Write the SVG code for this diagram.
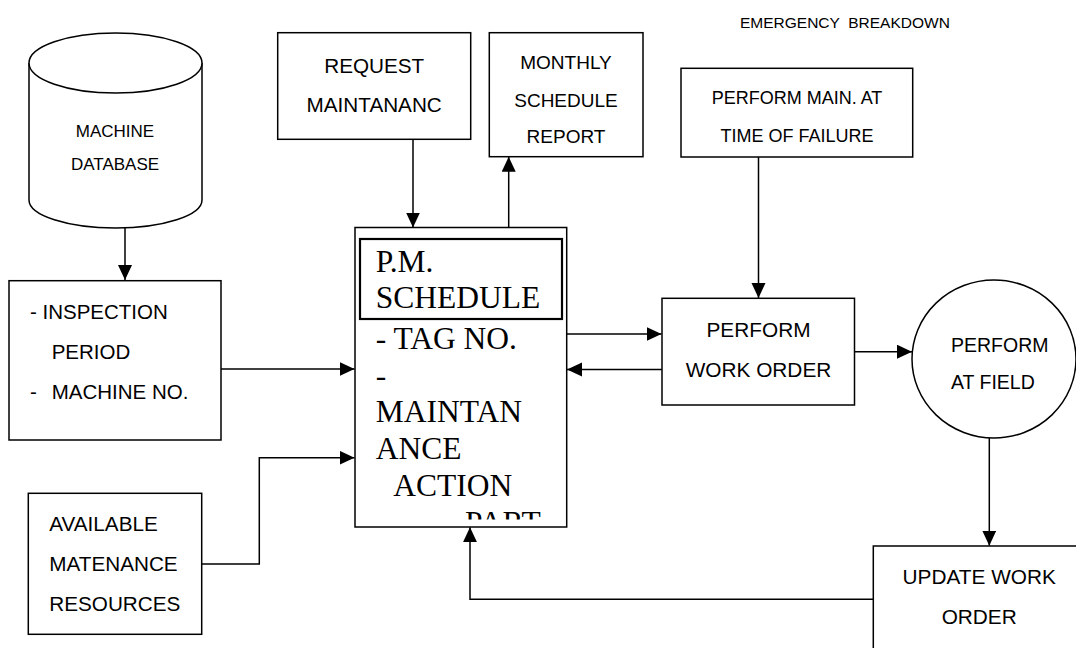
<svg xmlns="http://www.w3.org/2000/svg" width="1076" height="648" viewBox="0 0 1076 648">
  <style>
    .box { fill: #fff; stroke: #000; stroke-width: 1.5; }
    .inner { fill: none; stroke: #000; stroke-width: 2.2; }
    .edge { fill: none; stroke: #000; stroke-width: 1.5; }
    .sans { font-family: "Liberation Sans", Arial, sans-serif; fill: #000; }
    .serif { font-family: "Liberation Serif", "Times New Roman", serif; fill: #000; font-size: 31.5px; }
    .mid { text-anchor: middle; }
  </style>
  <defs>
    <marker id="arrow" markerUnits="userSpaceOnUse" markerWidth="16" markerHeight="15" refX="15" refY="7" orient="auto">
      <path d="M0,0 L15,7 L0,14 z" fill="#000"/>
    </marker>
    <!-- lower text of the schedule box is cut off above its bottom edge -->
    <clipPath id="pmClip">
      <rect x="357" y="320" width="208" height="199.5"/>
    </clipPath>
  </defs>

  <rect width="1076" height="648" fill="#fff"/>

  <text class="sans" x="740" y="28.3" font-size="15.5" xml:space="preserve">EMERGENCY  BREAKDOWN</text>

  <!-- connectors -->
  <g id="connectors">
    <line class="edge" x1="125" y1="227.7" x2="125" y2="280" marker-end="url(#arrow)"/>
    <line class="edge" x1="413" y1="139.3" x2="413" y2="227.5" marker-end="url(#arrow)"/>
    <line class="edge" x1="508.7" y1="227.5" x2="508.7" y2="156.7" marker-end="url(#arrow)"/>
    <line class="edge" x1="221" y1="369" x2="354.5" y2="369" marker-end="url(#arrow)"/>
    <polyline class="edge" points="201.7,564 259.3,564 259.3,457.7 354.5,457.7" marker-end="url(#arrow)"/>
    <line class="edge" x1="566.7" y1="334" x2="661.5" y2="334" marker-end="url(#arrow)"/>
    <line class="edge" x1="662" y1="369.5" x2="567" y2="369.5" marker-end="url(#arrow)"/>
    <line class="edge" x1="758.5" y1="157" x2="758.5" y2="298" marker-end="url(#arrow)"/>
    <line class="edge" x1="854.5" y1="351.7" x2="912" y2="351.7" marker-end="url(#arrow)"/>
    <line class="edge" x1="989.3" y1="438" x2="989.3" y2="545.7" marker-end="url(#arrow)"/>
    <polyline class="edge" points="873.3,599.3 470,599.3 470,527.2" marker-end="url(#arrow)"/>
  </g>

  <!-- machine database (cylinder) -->
  <g id="machine-database">
    <path class="box" d="M29,63 L29,200 A86.5,28 0 0 0 202,200 L202,63"/>
    <ellipse class="box" cx="115.5" cy="63" rx="86.5" ry="30"/>
    <text class="sans mid" x="115" y="137" font-size="17">MACHINE</text>
    <text class="sans mid" x="115" y="170" font-size="17">DATABASE</text>
  </g>

  <g id="request-maintenance">
    <rect class="box" x="277.7" y="32.7" width="193" height="106.6"/>
    <text class="sans mid" x="374.2" y="72.7" font-size="20.7">REQUEST</text>
    <text class="sans mid" x="374.2" y="111.7" font-size="20.7">MAINTANANC</text>
  </g>

  <g id="monthly-report">
    <rect class="box" x="489.3" y="32.7" width="153.7" height="124"/>
    <text class="sans mid" x="566" y="69.3" font-size="19">MONTHLY</text>
    <text class="sans mid" x="566" y="106.7" font-size="19">SCHEDULE</text>
    <text class="sans mid" x="566" y="142.7" font-size="19">REPORT</text>
  </g>

  <g id="perform-main">
    <rect class="box" x="681" y="68.3" width="231.7" height="88.7"/>
    <text class="sans mid" x="797" y="104" font-size="18">PERFORM MAIN. AT</text>
    <text class="sans mid" x="797" y="141.7" font-size="18">TIME OF FAILURE</text>
  </g>

  <g id="inspection">
    <rect class="box" x="9" y="280.7" width="212" height="159.3"/>
    <text class="sans" x="30" y="319.3" font-size="20.5">- INSPECTION</text>
    <text class="sans" x="51.7" y="359.3" font-size="20.5">PERIOD</text>
    <text class="sans" x="30" y="399" font-size="20.5">-</text>
    <text class="sans" x="51.7" y="399" font-size="20.5">MACHINE NO.</text>
  </g>

  <g id="available-resources">
    <rect class="box" x="28.3" y="493.3" width="173.4" height="141"/>
    <text class="sans" x="49.3" y="531" font-size="20.7">AVAILABLE</text>
    <text class="sans" x="49.3" y="571" font-size="20.7">MATENANCE</text>
    <text class="sans" x="49.3" y="611" font-size="20.7">RESOURCES</text>
  </g>

  <g id="pm-schedule">
    <rect class="box" x="355" y="227.5" width="211.7" height="299.5"/>
    <rect class="inner" x="360" y="239" width="202" height="80"/>
    <text class="serif" x="375.7" y="271.7">P.M.</text>
    <text class="serif" x="375.7" y="308.3">SCHEDULE</text>
    <g clip-path="url(#pmClip)">
      <text class="serif" x="375.7" y="349.3">- TAG NO.</text>
      <text class="serif" x="375.7" y="386">-</text>
      <text class="serif" x="375.7" y="422.3">MAINTAN</text>
      <text class="serif" x="375.7" y="459.3">ANCE</text>
      <text class="serif" x="393.3" y="496">ACTION</text>
      <text class="serif" x="465" y="533">PART</text>
    </g>
  </g>

  <g id="perform-work-order">
    <rect class="box" x="662" y="298.3" width="192.5" height="106.7"/>
    <text class="sans mid" x="758.5" y="336.7" font-size="20.8">PERFORM</text>
    <text class="sans mid" x="758.5" y="376.7" font-size="20.8">WORK ORDER</text>
  </g>

  <g id="perform-at-field">
    <ellipse class="box" cx="994" cy="359" rx="82" ry="79"/>
    <text class="sans" x="951" y="351.7" font-size="19.5">PERFORM</text>
    <text class="sans" x="951" y="389" font-size="19.5">AT FIELD</text>
  </g>

  <g id="update-work-order">
    <rect class="box" x="873.3" y="546" width="210" height="110"/>
    <text class="sans mid" x="979.2" y="584" font-size="20.8">UPDATE WORK</text>
    <text class="sans mid" x="979.2" y="624" font-size="20.8">ORDER</text>
  </g>
</svg>
